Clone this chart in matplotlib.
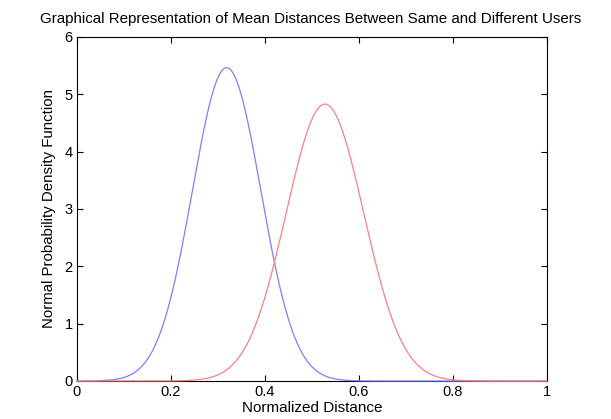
import numpy as np
import matplotlib
matplotlib.use("Agg")
import matplotlib.pyplot as plt

# Normal PDF parameters (peak position / peak height)
labels = ["Same user", "Different users"]
means = [0.3185, 0.5277]
stds = [0.0730, 0.0826]
colors = ["#7f7fff", "#ff8080"]

x_ticks = [0, 0.2, 0.4, 0.6, 0.8, 1]
y_ticks = [0, 1, 2, 3, 4, 5, 6]

plt.rcParams["font.family"] = ["Liberation Sans", "DejaVu Sans"]

fig = plt.figure(figsize=(6.11, 4.19), dpi=100)
ax = fig.add_axes([0.126, 0.0907, 0.769, 0.821])

x = np.linspace(0, 1, 1001)
for mu, sd, c, lab in zip(means, stds, colors, labels):
    y = np.exp(-0.5 * ((x - mu) / sd) ** 2) / (sd * np.sqrt(2 * np.pi))
    ax.plot(x, y, color=c, lw=0.9, label=lab, clip_on=False, zorder=3)

ax.set_xlim(0, 1)
ax.set_ylim(0, 6)
ax.set_xticks(x_ticks)
ax.set_xticklabels([f"{t:g}" for t in x_ticks])
ax.set_yticks(y_ticks)
ax.tick_params(direction="in", top=True, right=True, length=4, width=0.8, labelsize=10.5, pad=3)
for s in ax.spines.values():
    s.set_linewidth(0.8)

ax.set_xlabel("Normalized Distance", fontsize=11, labelpad=1)
ax.set_ylabel("Normal Probability Density Function", fontsize=10.8, labelpad=6)
fig.text(0.508, 0.955, "Graphical Representation of Mean Distances Between Same and Different Users",
         ha="center", va="center", fontsize=10.9)

fig.savefig("out.png", dpi=100)
